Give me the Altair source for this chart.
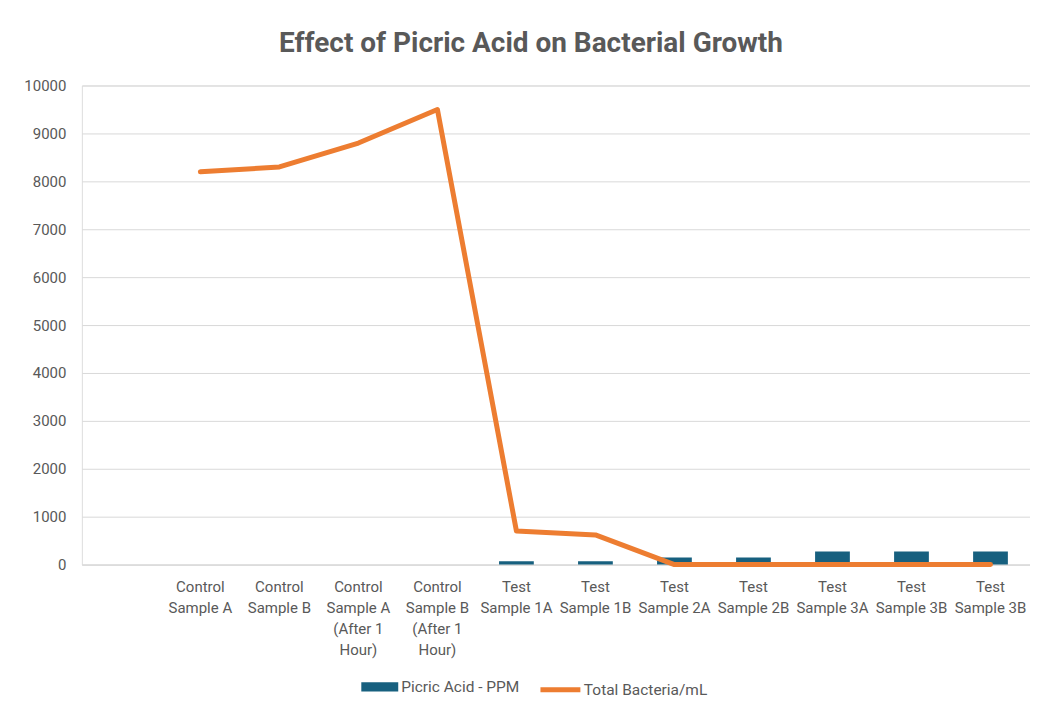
import altair as alt
import pandas as pd

categories = ["", "Control\nSample A", "Control\nSample B",
              "Control\nSample A\n(After 1\nHour)", "Control\nSample B\n(After 1\nHour)",
              "Test\nSample 1A", "Test\nSample 1B", "Test\nSample 2A", "Test\nSample 2B",
              "Test\nSample 3A", "Test\nSample 3B", "Test\nSample 3B"]
picric_ppm = [0, 0, 0, 0, 0, 70, 70, 150, 150, 275, 275, 275]
bacteria = [None, 8200, 8300, 8800, 9500, 700, 620, 0, 0, 0, 0, 0]
y_ticks = [0, 1000, 2000, 3000, 4000, 5000, 6000, 7000, 8000, 9000, 10000]

df = pd.DataFrame({
    "idx": list(range(len(categories))),
    "picric": picric_ppm,
    "bacteria": bacteria,
    "s1": "Picric Acid - PPM",
    "s2": "Total Bacteria/mL",
})

label_js = "[" + ",".join("'" + c.replace("\n", "\\n") + "'" for c in categories) + "]"

FONT = "Roboto"
GREY = "#595959"

x = alt.X("idx:O", title=None,
          scale=alt.Scale(paddingInner=0.56, paddingOuter=0.28),
          axis=alt.Axis(labelExpr=f"split({label_js}[datum.value], '\\n')",
                        labelAngle=0, labelFontSize=15, labelColor=GREY, labelFont=FONT,
                        labelPadding=15, ticks=False, domainColor="#d9d9d9",
                        labelLineHeight=21, labelBaseline="top"))

y_axis = alt.Axis(values=y_ticks, format="d",
                  domain=False, ticks=False, gridColor="#d9d9d9",
                  labelFontSize=15, labelColor=GREY, labelFont=FONT,
                  labelPadding=16)

bars = alt.Chart(df).mark_bar(color="#17607f").encode(
    x=x,
    y=alt.Y("picric:Q", title=None, scale=alt.Scale(domain=[0, 10000]), axis=y_axis),
    fill=alt.Fill("s1:N", scale=alt.Scale(range=["#17607f"]),
                  legend=alt.Legend(title=None, orient="none", legendX=280, legendY=584,
                                    symbolType="M-1,-0.25H1V0.25H-1Z", symbolSize=1369,
                                    labelFontSize=15.5, labelColor=GREY, labelFont=FONT,
                                    labelOffset=3, symbolStrokeWidth=0)),
)

line = alt.Chart(df).mark_line(strokeWidth=5, strokeCap="round", strokeJoin="round").encode(
    x=x,
    y=alt.Y("bacteria:Q", title=None, scale=alt.Scale(domain=[0, 10000]), axis=y_axis),
    stroke=alt.Stroke("s2:N", scale=alt.Scale(range=["#ed7d31"]),
                      legend=alt.Legend(title=None, orient="none", legendX=457, legendY=583,
                                        symbolType="stroke", symbolSize=1600,
                                        symbolStrokeWidth=5, labelOffset=1,
                                        labelFontSize=15.5, labelColor=GREY, labelFont=FONT)),
)

chart = alt.layer(bars, line).resolve_scale(fill="independent", stroke="independent").properties(
    width=950, height=480,
    autosize=alt.AutoSizeParams(type="none"),
    padding={"left": 74, "top": 77, "right": 0, "bottom": 136},
    title=alt.Title("Effect of Picric Acid on Bacterial Growth", fontSize=28,
                    font=FONT, fontWeight="bold", color=GREY, offset=21, dx=-25,
                    anchor="middle"),
).configure_view(stroke=None).configure(background="white")

chart.save("out.html", embed_options={"renderer": "svg", "actions": False})
